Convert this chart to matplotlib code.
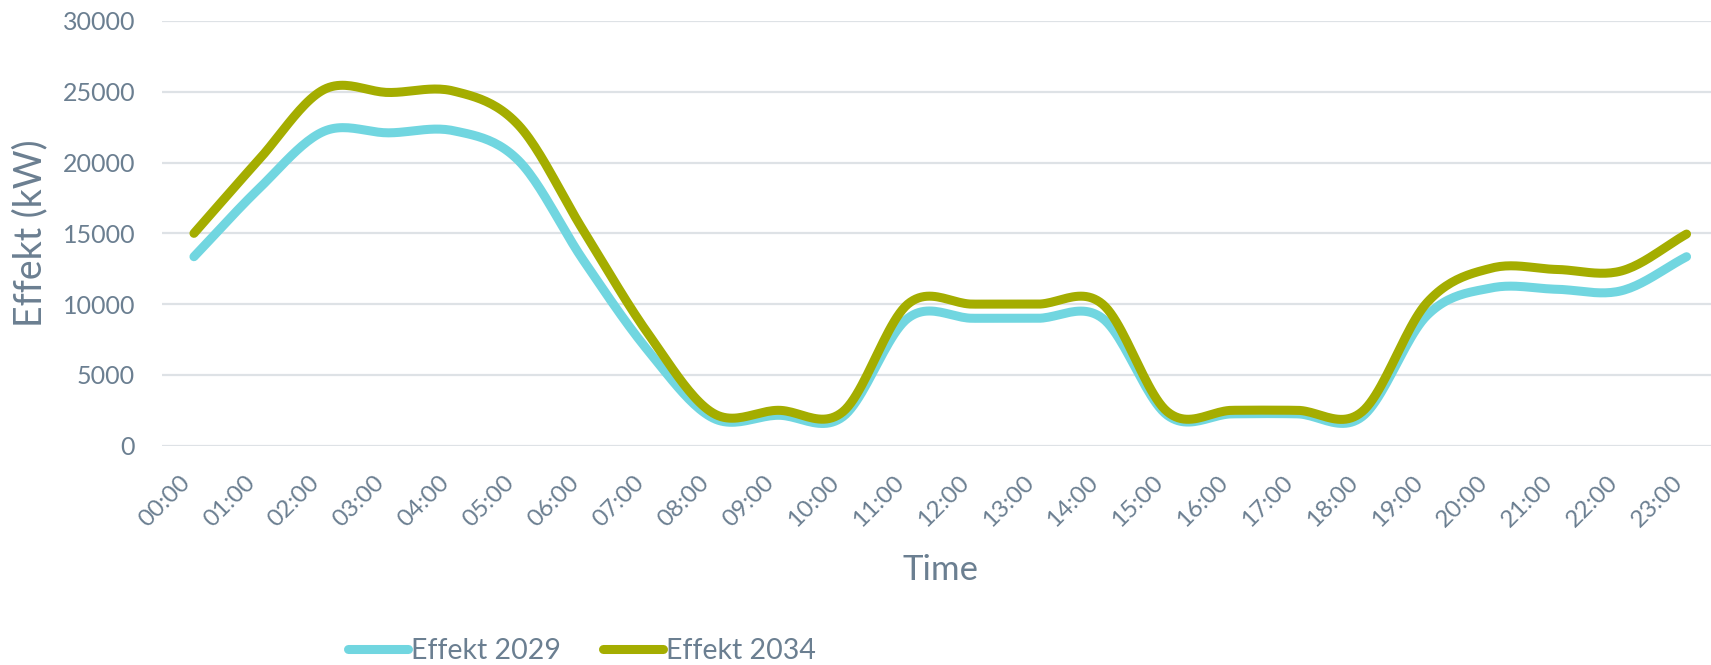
import matplotlib
matplotlib.use('Agg')
import matplotlib.pyplot as plt
import numpy as np

C_CYAN = '#71D6E0'
C_OLIVE = '#A4AD00'
C_TEXT = '#6B7F91'
C_GRID = '#DEE2E6'

hours = [f'{h:02d}:00' for h in range(24)]
effekt_2029 = [13350, 18150, 22200, 22100, 22250, 20150, 13100, 6700, 1950, 2150, 2050, 9000,
               9000, 9000, 9000, 2150, 2250, 2250, 2050, 9200, 11150, 11050, 10950, 13350]
effekt_2034 = [15000, 20200, 25150, 24950, 25050, 22650, 15200, 7900, 2300, 2500, 2400, 10000,
               10000, 10000, 10000, 2400, 2500, 2500, 2400, 10100, 12550, 12450, 12350, 14950]


def smooth(y, n=24):
    # Excel-style smoothed line: cubic bezier through the points
    y = np.asarray(y, dtype=float)
    x = np.arange(len(y), dtype=float)
    xs, ys = [], []
    for i in range(len(y) - 1):
        y0 = y[i - 1] if i > 0 else y[i]
        y3 = y[i + 2] if i + 2 < len(y) else y[i + 1]
        t0 = (y[i + 1] - y0) / (2 if i > 0 else 1)
        t1 = (y3 - y[i]) / (2 if i + 2 < len(y) else 1)
        p0, p1, p2, p3 = y[i], y[i] + t0 / 3, y[i + 1] - t1 / 3, y[i + 1]
        t = np.linspace(0, 1, n, endpoint=(i == len(y) - 2))
        ys.append((1 - t) ** 3 * p0 + 3 * t * (1 - t) ** 2 * p1 + 3 * t ** 2 * (1 - t) * p2 + t ** 3 * p3)
        xs.append(x[i] + t)
    return np.concatenate(xs), np.concatenate(ys)


plt.rcParams.update({
    'font.family': ['Lato', 'DejaVu Sans'],
    'text.color': C_TEXT,
    'axes.labelcolor': C_TEXT,
    'xtick.color': C_TEXT,
    'ytick.color': C_TEXT,
})

fig = plt.figure(figsize=(17.11, 6.65), dpi=100)
ax = fig.add_axes([161.5 / 1711, 1 - 445.7 / 665, 1557.5 / 1711, 424.7 / 665])

x29, y29 = smooth(effekt_2029)
x34, y34 = smooth(effekt_2034)
ax.plot(x29, y29, color=C_CYAN, lw=6.5, solid_capstyle='round', label='Effekt 2029', zorder=3)
ax.plot(x34, y34, color=C_OLIVE, lw=6.5, solid_capstyle='round', label='Effekt 2034', zorder=4)

ax.set_xlim(-0.5, 23.5)
ax.set_ylim(0, 30000)
ax.set_yticks(np.arange(0, 30001, 5000))
ax.set_xticks(range(24))
ax.set_xticklabels(hours, rotation=45, ha='right', va='top', fontsize=17.5)
ax.tick_params(axis='x', length=0, pad=19)
ax.tick_params(axis='y', length=0, pad=19, labelsize=18)
ax.grid(axis='y', color=C_GRID, lw=1.6, zorder=0)
for s in ax.spines.values():
    s.set_visible(False)

ax.set_ylabel('Effekt (kW)', fontsize=27, va='center')
ax.yaxis.set_label_coords(-0.0845, 0.5)
ax.set_xlabel('Time', fontsize=25, va='center')
ax.xaxis.set_label_coords(0.5, -0.292)

fig.legend(loc='center', bbox_to_anchor=(582 / 1711, 14 / 665), ncol=2, frameon=False,
           fontsize=20.5, handlelength=2.1, handletextpad=0.1, columnspacing=1.5)

fig.savefig('out.png', dpi=100)
plt.close(fig)
